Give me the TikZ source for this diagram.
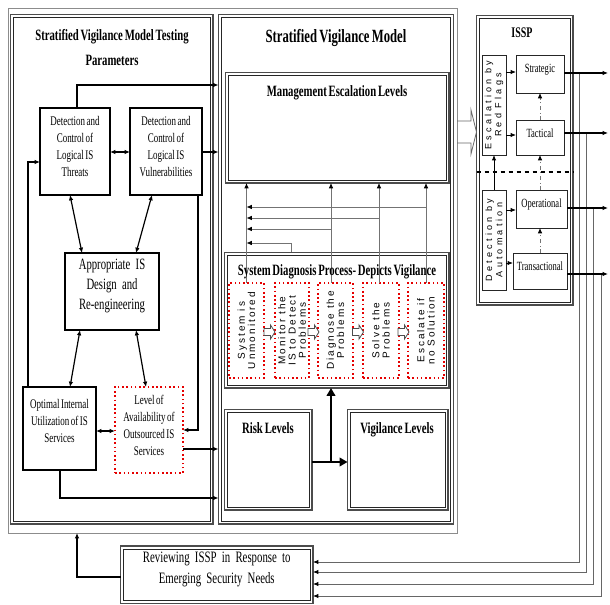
\documentclass[tikz,border=0pt]{standalone}
\usepackage{fontspec}
\setmainfont{Liberation Serif}
\newfontfamily\cf[FakeStretch=0.68,WordSpace=0.68]{Liberation Serif}
\newfontfamily\sfa[LetterSpace=20]{Liberation Sans}
\newfontfamily\sfb[LetterSpace=35]{Liberation Sans}
\usetikzlibrary{arrows.meta,fit,calc}
\newcommand\dblin[1]{\draw[black!85,line width=0.5pt] ($(#1.north west)+(3,3)$) rectangle ($(#1.south east)+(-3,-3)$);}
\begin{document}
\begin{tikzpicture}[x=0.75pt,y=-0.75pt,
  every node/.style={inner sep=0pt,outer sep=0pt},
  dbl/.style={draw=black!70,line width=1.1pt},
  blk/.style={draw=black,line width=1pt},
  ibox/.style={draw=black!85,line width=0.6pt},
  rdot/.style={draw=red!90!black,line width=1.2pt,dotted},
  body/.style={font=\cf\fontsize{9.9}{12.75}\selectfont,align=center},
  sbody/.style={font=\cf\fontsize{9.4}{11}\selectfont,align=center},
  ttl/.style={font=\cf\bfseries\fontsize{11.8}{18.75}\selectfont,align=center},
  rot/.style={rotate=90,align=center,font=\sfa\fontsize{7.5}{7.7}\selectfont},
  rotb/.style={rotate=90,align=center,font=\sfb\fontsize{6.8}{7.6}\selectfont},
  tip/.style={-{Latex[length=4pt,width=3.4pt,color=black]}},
  arr/.style={draw=black,line width=0.9pt,tip},
  arrb/.style={draw=black,line width=0.9pt,{Latex[length=4pt,width=3.4pt]}-{Latex[length=4pt,width=3.4pt]}},
  garr/.style={draw=black!55,line width=0.6pt,tip},
  dda/.style={draw=black!55,line width=0.6pt,dash dot,tip},
  oarr/.style={draw=black,line width=1.1pt,tip},
  rarr/.style={draw=black!60,line width=0.7pt,tip},
  tarr/.style={draw=black,line width=2.2pt,-{Triangle[length=6pt,width=6.5pt]}}
]
\useasboundingbox (0,0) rectangle (610,605);

% frames
\node[draw=black!45,line width=0.6pt,fit={(8,8)(457,533)}] (frame) {};
\node[dbl,fit={(10.5,14.5)(213,524)}] (lp) {};
\dblin{lp}
\node[dbl,fit={(218.5,14.5)(453.5,524)}] (mp) {};
\dblin{mp}

% left panel
\node[ttl] (lpT) at (112,47.5) {Stratified Vigilance Model Testing\\Parameters};
\node[blk,body,fit={(40,108)(110,195)}] (thr) {Detection and\\Control of\\Logical IS\\Threats};
\node[blk,body,fit={(130,108)(202,195)}] (vul) {Detection and\\Control of\\Logical IS\\Vulnerabilities};
\node[blk,fit={(65,253)(159,330)},font=\cf\fontsize{11.8}{15}\selectfont,align=center] (app) {Appropriate IS\\Design and\\Re-engineering};
\node[blk,fit={(23,387)(96,470)}] (opt) {};
\node[body] (optT) at (59.5,421) {Optimal Internal\\Utilization of IS\\Services};
\node[rdot,body,fit={(115,387)(183,473)}] (lev) {Level of\\Availability of\\Outsourced IS\\Services};

\draw[arr] (thr.north -| 77,0) |- (mp.west |- 0,85);
\draw[arrb] (thr.east |- 0,152) -- (vul.west |- 0,152);
\draw[arr] (vul.east |- 0,152) -- (mp.west |- 0,152);
\draw[arr] (opt.north -| 28,0) |- (thr.west |- 0,162);
\draw[arr] (vul.south -| 198,0) |- (lev.east |- 0,430);
\draw[arrb] (thr.south -| 70,0) -- (app.north -| 82,0);
\draw[arrb] (vul.south -| 152,0) -- (app.north -| 136,0);
\draw[arrb] (app.south -| 80,0) -- (opt.north -| 70,0);
\draw[arrb] (app.south -| 136,0) -- (lev.north -| 146,0);
\draw[arrb] (opt.east |- 0,431) -- (lev.west |- 0,431);
\draw[arr] (lev.east |- 0,449) -- (mp.west |- 0,449);
\draw[arr] (opt.south -| 60,0) |- (mp.west |- 0,498);

% middle panel
\node[font=\cf\bfseries\fontsize{14}{16}\selectfont] (mpT) at (336,38) {Stratified Vigilance Model};
\node[dbl,fit={(225.5,72.5)(449,183)}] (meb) {};
\dblin{meb}
\node[ttl] (mebT) at (337,93) {Management Escalation Levels};
\node[dbl,fit={(224.5,252.5)(449,388)}] (diag) {};
\dblin{diag}
\node[rdot,fit={(229,283)(264,378)}] (d1) {};
\node[rdot,fit={(275,283)(309,378)}] (d2) {};
\node[rdot,fit={(318,283)(353,378)}] (d3) {};
\node[rdot,fit={(363,283)(399,378)}] (d4) {};
\node[rdot,fit={(408,283)(444,378)}] (d5) {};
\node[rot] (d1T) at (d1) {System is\\Unmonitored};
\node[rot] (d2T) at (d2) {Monitor the\\IS to Detect\\Problems};
\node[rot] (d3T) at (d3) {Diagnose the\\Problems};
\node[rot] (d4T) at (d4) {Solve the\\Problems};
\node[rot] (d5T) at (d5) {Escalate if\\no Solution};
\foreach \c in {269.5,313.5,358,403.5}
  \draw[black!70,line width=0.6pt,fill=white] ({\c-5.5},328.5) -- ({\c+1},328.5) -- ({\c+1},325) -- ({\c+5.5},332) -- ({\c+1},339) -- ({\c+1},335.5) -- ({\c-5.5},335.5) -- cycle;

\draw[garr] (d1.north) -- (meb.south -| d1.north);
\draw[garr] (diag.north -| 291,0) |- (d1.north |- 0,243);
\draw[garr] (d3.north -| 331,0) -- (meb.south -| 331,0);
\draw[garr] (d3.north -| 331,0) |- (d1.north |- 0,229);
\draw[garr] (d4.north -| 379,0) -- (meb.south -| 379,0);
\draw[garr] (d4.north -| 379,0) |- (d1.north |- 0,218);
\draw[garr] (d5.north -| 426,0) -- (meb.south -| 426,0);
\draw[garr] (d5.north -| 426,0) |- (d1.north |- 0,207);
\node[ttl] (diagT) at (337,272) {System Diagnosis Process- Depicts Vigilance};

\node[dbl,fit={(224.5,409.5)(312,510)}] (risk) {};
\dblin{risk}
\node[dbl,fit={(347.5,409.5)(448,510)}] (vig) {};
\dblin{vig}
\node[ttl] (riskT) at (268,428) {Risk Levels};
\node[ttl] (vigT) at (397,430) {Vigilance Levels};
\draw[tarr] (risk.east |- 0,462) -- (vig.west |- 0,462);
\draw[tarr] (risk.east |- 0,462) -| (diag.south -| 331,0);

% ISSP
\node[dbl,fit={(476.5,15.5)(573,305)}] (issp) {};
\dblin{issp}
\node[font=\cf\bfseries\fontsize{11}{12}\selectfont] (isspT) at (522,33) {ISSP};
\draw[draw=black!60,line width=0.6pt] (frame.east |- 0,121) -- (471,121) -- (471,110) -- (issp.west |- 0,132) -- (471,154) -- (471,143) -- (frame.east |- 0,143);
\node[ibox,fit={(482,55)(506,155)}] (rf) {};
\node[rotb] (rfT) at (rf) {Escalation by\\Red Flags};
\node[ibox,fit={(482,190)(506,290)}] (da) {};
\node[rotb] (daT) at (da) {Detection by\\Automation};
\node[ibox,sbody,fit={(516,55)(564,93)}] (str) {Strategic};
\node[ibox,sbody,fit={(516,120)(564,155)}] (tac) {Tactical};
\node[ibox,sbody,fit={(516,190)(567,228)}] (ope) {Operational};
\node[ibox,sbody,fit={(513,253)(567,289)}] (tra) {Transactional};
\draw[dashed,line width=0.8pt] (issp.west |- 0,172) -- (issp.east |- 0,172);
\draw[arr,line width=0.7pt] (rf.east |- 0,72) -- (str.west |- 0,72);
\draw[arr,line width=0.7pt] (rf.east |- 0,135) -- (tac.west |- 0,135);
\draw[arr,line width=0.7pt] (da.east |- 0,210) -- (ope.west |- 0,210);
\draw[arr,line width=0.7pt] (da.east |- 0,263) -- (tra.west |- 0,263);
\draw[arr,line width=0.7pt] (da.north -| 494,0) -- (rf.south -| 494,0);
\draw[dda] (tra.north -| 540,0) -- (ope.south -| 540,0);
\draw[dda] (ope.north -| 540,0) -- (tac.south -| 540,0);
\draw[dda] (tac.north -| 540,0) -- (str.south -| 540,0);

% review
\node[dbl,fit={(120.5,546)(313,603.5)},font=\cf\fontsize{11.9}{15.75}\selectfont,align=center] (rev) {Reviewing ISSP in Response to\\Emerging Security Needs};
\dblin{rev}
\draw[arr] (rev.west |- 0,577) -| (frame.south -| 77,0);

\coordinate (o1) at (608,73);
\coordinate (o2) at (608,133);
\coordinate (o3) at (608,208);
\coordinate (o4) at (608,274);
\draw[rarr] (o1 -| 579,0) |- (rev.east |- 0,562);
\draw[rarr] (o2 -| 586,0) |- (rev.east |- 0,572);
\draw[rarr] (o3 -| 593,0) |- (rev.east |- 0,584);
\draw[rarr] (o4 -| 601,0) |- (rev.east |- 0,596);
\draw[oarr] (str.east |- o1) -- (o1);
\draw[oarr] (tac.east |- o2) -- (o2);
\draw[oarr] (ope.east |- o3) -- (o3);
\draw[oarr] (tra.east |- o4) -- (o4);
\end{tikzpicture}
\end{document}
